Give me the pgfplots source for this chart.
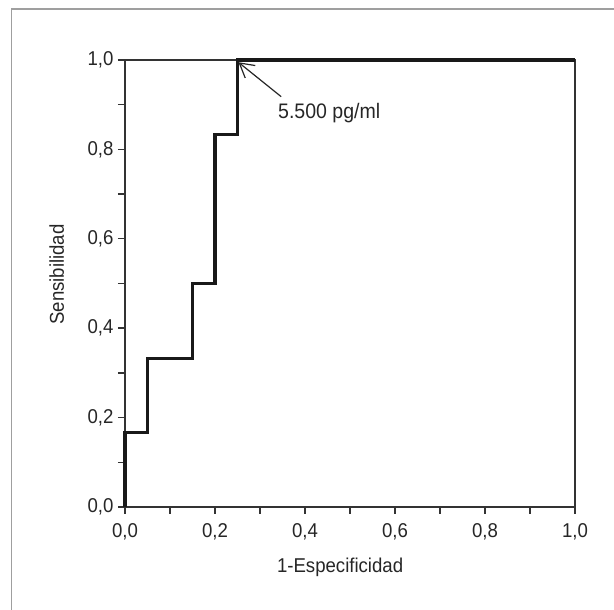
\documentclass[border=0pt]{standalone}
\usepackage{fontspec}
\setmainfont{Liberation Sans}[FakeStretch=0.93]
\usepackage{pgfplots}
\pgfplotsset{compat=1.18}
\usetikzlibrary{arrows.meta}
\definecolor{axgray}{HTML}{333333}
\begin{document}
\begin{tikzpicture}
\useasboundingbox (0pt,0pt) rectangle (614pt,610pt);
\draw[gray!75, line width=1.5pt] (11.5pt,0pt) -- (11.5pt,601pt) -- (614pt,601pt);
\begin{axis}[
  at={(125pt,103pt)}, anchor=south west,
  scale only axis, width=450pt, height=447pt,
  xmin=0, xmax=1, ymin=0, ymax=1,
  xtick={0,0.2,...,1.01}, ytick={0,0.2,...,1.01},
  minor xtick={0.1,0.3,0.5,0.7,0.9}, minor ytick={0.1,0.3,0.5,0.7,0.9},
  xtick pos=bottom, ytick pos=left,
  tick align=outside,
  major tick length=7pt, minor tick length=7pt,
  every tick/.style={axgray, line width=1.4pt},
  axis line style={axgray, line width=1.4pt},
  /pgf/number format/assume math mode=true,
  /pgf/number format/.cd, use comma, fixed, fixed zerofill, precision=1,
  /pgfplots/.cd,
  tick label style={font=\fontsize{20}{24}\selectfont, text=black!85},
  xticklabel style={yshift=-6pt},
  yticklabel style={xshift=-1pt},
  label style={font=\fontsize{20}{24}\selectfont, text=black!85},
  xlabel={1-Especificidad},
  ylabel={Sensibilidad},
  xlabel style={at={(axis description cs:0.478,-0.135)}, anchor=center},
  ylabel style={at={(axis description cs:-0.152,0.52)}, anchor=center, rotate=0},
  clip=false,
]
\addplot[black!90, line width=3.2pt, line join=miter] coordinates {
  (0,0) (0,0.167) (0.05,0.167) (0.05,0.333) (0.15,0.333) (0.15,0.5)
  (0.2,0.5) (0.2,0.833) (0.25,0.833) (0.25,1) (1,1)
};
\draw[black!85, line width=1.2pt, -{Straight Barb[length=14pt,width=16pt,line width=1.2pt]}]
  (axis cs:0.347,0.918) -- (axis cs:0.252,0.995);
\node[anchor=base west, font=\fontsize{21}{25}\selectfont, text=black!85, inner sep=0pt]
  at (axis cs:0.34,0.870) {5.500 pg/ml};
\end{axis}
\end{tikzpicture}
\end{document}
